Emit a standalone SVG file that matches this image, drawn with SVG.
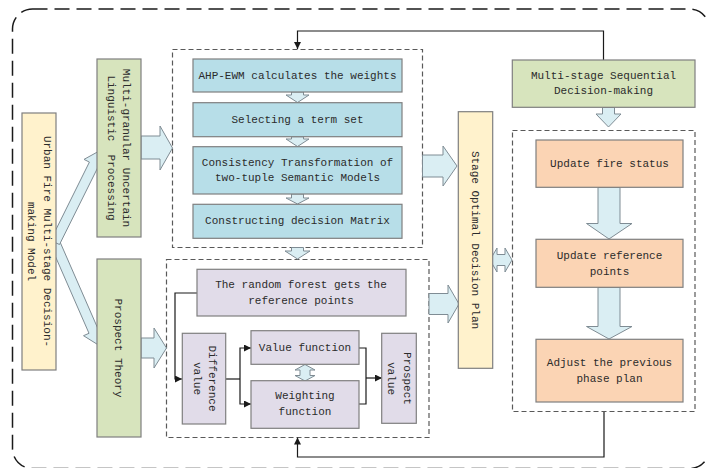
<svg xmlns="http://www.w3.org/2000/svg" width="706" height="468" viewBox="0 0 706 468">
<style>
  text { font-family: "Liberation Mono", "DejaVu Sans Mono", monospace; font-size: 11px; fill: #2b2b2b; }
  .c { text-anchor: middle; dominant-baseline: central; }
  .box { stroke: #7f7f7f; stroke-width: 1.2; }
  .yellow { fill: #FFF2CC; }
  .green { fill: #D7E4BD; }
  .blue { fill: #B7DEE8; }
  .purple { fill: #E1DCE9; }
  .orange { fill: #FBD4B4; }
  .frame { fill: none; stroke: #595959; stroke-width: 1.2; stroke-dasharray: 5 3; }
  .blk { fill: #DAEEF3; stroke: #7f8c94; stroke-width: 1; }
  .line { fill: none; stroke: #1a1a1a; stroke-width: 1.2; }
</style>
<defs>
  <marker id="ah" viewBox="0 0 8 8" refX="8" refY="4" markerWidth="7" markerHeight="7" markerUnits="userSpaceOnUse" orient="auto">
    <path d="M0,0 L8,4 L0,8 Z" fill="#1a1a1a"/>
  </marker>
</defs>

<!-- outer frame -->
<rect x="12.5" y="9" width="697" height="459.5" rx="20" ry="20" fill="none" stroke="#1a1a1a" stroke-width="1.5" stroke-dasharray="15 7"/>

<!-- containers -->
<g id="container-top"><rect class="frame" x="172.5" y="49.5" width="250" height="198"/></g>
<g id="container-bottom"><rect class="frame" x="166.5" y="259.5" width="262.5" height="178"/></g>
<g id="container-right"><rect class="frame" x="512.5" y="130.5" width="182.5" height="281"/></g>

<!-- connectors -->
<g id="connectors">
  <path class="line" d="M603.5,60 V31 H297.5 V49" marker-end="url(#ah)"/>
  <path class="line" d="M604,412 V457 H297.5 V437.5" marker-end="url(#ah)"/>
  <path class="line" d="M197,293 H175 V379 H182" marker-end="url(#ah)"/>
  <path class="line" d="M226,379 H240"/>
  <path class="line" d="M240,379 V348 H251" marker-end="url(#ah)"/>
  <path class="line" d="M240,379 V404 H251" marker-end="url(#ah)"/>
  <path class="line" d="M359,348 H366 V404 H359"/>
  <path class="line" d="M366,378 H382" marker-end="url(#ah)"/>

  <!-- block arrows -->
  <polygon class="blk" points="59.6,241 98.2,329.3 103.7,326.9 100,346 83.5,335.7 89,333.3 50.4,245"/>
  <polygon class="blk" points="50.5,240.5 89.4,162.1 84,159.4 101,150 103.7,169.2 98.3,166.5 59.5,244.5"/>
  <polygon class="blk" points="141,136 160,136 160,126 172.5,148 160,170 160,159 141,159"/>
  <polygon class="blk" points="141,338 154,338 154,328 166.5,348 154,368 154,358 141,358"/>
  <polygon class="blk" points="422.5,155 443,155 443,146 457,166 443,186 443,177 422.5,177"/>
  <polygon class="blk" points="429,293.5 448,293.5 448,285 459,304 448,323 448,314.5 429,314.5"/>
  <polygon class="blk" points="490,260 497,248 497,254.5 505,254.5 505,248 512,260 505,272 505,265.5 497,265.5 497,272"/>
  <polygon class="blk" points="291.5,92 303.5,92 303.5,95 309,95 297.5,102.5 286,95 291.5,95"/>
  <polygon class="blk" points="291.5,136.7 303.5,136.7 303.5,139 309,139 297.5,146.5 286,139 291.5,139"/>
  <polygon class="blk" points="291.5,194 303.5,194 303.5,198 309,198 297.5,204 286,198 291.5,198"/>
  <polygon class="blk" points="291.5,247.5 303.5,247.5 303.5,251 310,251 297.5,259 285,251 291.5,251"/>
  <polygon class="blk" points="305,364.5 315,370 310,370 310,375.5 315,375.5 305,381 295,375.5 300,375.5 300,370 295,370"/>
  <polygon class="blk" points="602.5,107.5 614.5,107.5 614.5,114 621,114 608.5,127 596,114 602.5,114"/>
  <polygon class="blk" points="598,187.5 620,187.5 620,223.5 632,223.5 609,239 586.5,223.5 598,223.5"/>
  <polygon class="blk" points="598,287.5 620,287.5 620,326.5 632,326.5 609,339 586.5,326.5 598,326.5"/>
</g>

<!-- nodes -->
<g id="urban-fire">
  <rect class="box yellow" x="22" y="113" width="34" height="257"/>
  <text class="c" transform="translate(39,241.5) rotate(90)"><tspan x="0" y="-7.8">Urban Fire Multi-stage Decision-</tspan><tspan x="0" y="7.8">making Model</tspan></text>
</g>
<g id="multi-granular">
  <rect class="box green" x="97" y="59" width="44" height="178"/>
  <text class="c" transform="translate(118.5,148) rotate(90)" xml:space="preserve"><tspan x="0" y="-7.5">Multi-granular Uncertain</tspan><tspan x="0" y="7.5">Linguistic  Processing</tspan></text>
</g>
<g id="prospect-theory">
  <rect class="box green" x="97" y="259" width="44" height="178"/>
  <text class="c" transform="translate(118,348) rotate(90)">Prospect Theory</text>
</g>
<g id="ahp-ewm">
  <rect class="box blue" x="193" y="59" width="209" height="33"/>
  <text class="c" x="297.5" y="75.5">AHP-EWM calculates the weights</text>
</g>
<g id="term-set">
  <rect class="box blue" x="193" y="102.7" width="209" height="34"/>
  <text class="c" x="297.5" y="119.7">Selecting a term set</text>
</g>
<g id="consistency">
  <rect class="box blue" x="193" y="146.7" width="209" height="47.3"/>
  <text class="c" x="297.5" y="163">Consistency Transformation of</text>
  <text class="c" x="297.5" y="178.3">two-tuple Semantic Models</text>
</g>
<g id="decision-matrix">
  <rect class="box blue" x="193" y="204.3" width="209" height="34"/>
  <text class="c" x="297.5" y="221.3">Constructing decision Matrix</text>
</g>
<g id="random-forest">
  <rect class="box purple" x="197" y="269.3" width="209" height="46.7"/>
  <text class="c" x="301" y="284.5">The random forest gets the</text>
  <text class="c" x="301" y="300.5">reference points</text>
</g>
<g id="difference-value">
  <rect class="box purple" x="182.3" y="333.3" width="43.4" height="90.7"/>
  <text class="c" transform="translate(204,378.5) rotate(90)"><tspan x="0" y="-7.5">Difference</tspan><tspan x="0" y="7.5">value</tspan></text>
</g>
<g id="value-function">
  <rect class="box purple" x="251" y="330.7" width="108" height="33.6"/>
  <text class="c" x="305" y="347.5">Value function</text>
</g>
<g id="weighting-function">
  <rect class="box purple" x="251" y="380.7" width="108" height="47.6"/>
  <text class="c" x="305" y="396">Weighting</text>
  <text class="c" x="305" y="412">function</text>
</g>
<g id="prospect-value">
  <rect class="box purple" x="381.7" y="333.3" width="34.6" height="90"/>
  <text class="c" transform="translate(399,378.5) rotate(90)"><tspan x="0" y="-8">Prospect</tspan><tspan x="0" y="8">value</tspan></text>
</g>
<g id="stage-optimal">
  <rect class="box yellow" x="458.3" y="111.7" width="34.4" height="256.6"/>
  <text class="c" transform="translate(474.5,240) rotate(90)">Stage Optimal Decision Plan</text>
</g>
<g id="multi-stage-sequential">
  <rect class="box green" x="512.3" y="60" width="182.7" height="47.3"/>
  <text class="c" x="603.5" y="76">Multi-stage Sequential</text>
  <text class="c" x="603.5" y="91">Decision-making</text>
</g>
<g id="update-fire">
  <rect class="box orange" x="536" y="140" width="147" height="47.3"/>
  <text class="c" x="609.5" y="163.5">Update fire status</text>
</g>
<g id="update-reference">
  <rect class="box orange" x="536" y="239.3" width="147" height="48"/>
  <text class="c" x="609.5" y="256">Update reference</text>
  <text class="c" x="609.5" y="271.5">points</text>
</g>
<g id="adjust-plan">
  <rect class="box orange" x="536" y="339.3" width="147" height="62.7"/>
  <text class="c" x="609.5" y="363.3">Adjust the previous</text>
  <text class="c" x="609.5" y="378.5">phase plan</text>
</g>
</svg>
